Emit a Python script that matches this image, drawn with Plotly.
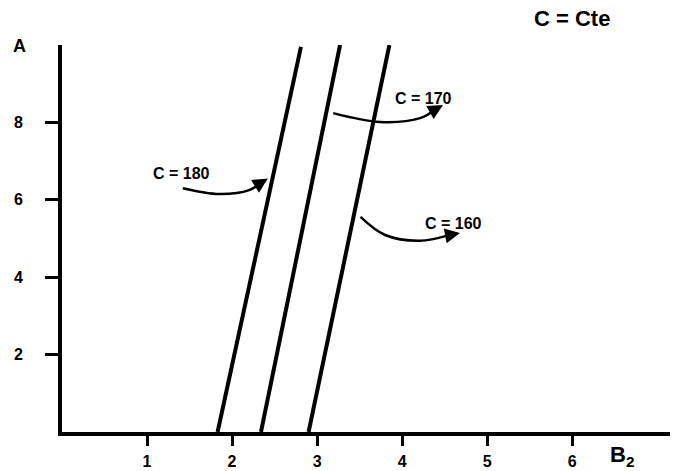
import plotly.graph_objects as go

# ---- data ----
series_names = ["C = 180", "C = 170", "C = 160"]
b2_bottom = [1.83, 2.34, 2.90]
b2_top = [2.81, 3.27, 3.85]
a_bottom = [0.0, 0.0, 0.0]
a_top = [9.95, 10.0, 10.0]

x_ticks = [1, 2, 3, 4, 5, 6]
y_ticks = [2, 4, 6, 8]

# annotation pointer curves (data units)
curve_180_x = [1.42, 1.85, 2.20, 2.42]
curve_180_y = [6.30, 6.15, 6.25, 6.55]
curve_170_x = [3.19, 3.74, 4.21, 4.48]
curve_170_y = [8.24, 8.01, 8.11, 8.45]
curve_160_x = [3.51, 3.80, 4.21, 4.68]
curve_160_y = [5.56, 5.09, 4.94, 5.14]
label_pos = [(1.41, 6.69), (4.25, 8.63), (4.60, 5.40)]

fig = go.Figure()

for i, name in enumerate(series_names):
    fig.add_trace(go.Scatter(
        x=[b2_bottom[i], b2_top[i]], y=[a_bottom[i], a_top[i]],
        mode="lines", line=dict(color="black", width=4),
        name=name, showlegend=False, cliponaxis=False, hoverinfo="skip"))

curves = [(curve_180_x, curve_180_y), (curve_170_x, curve_170_y), (curve_160_x, curve_160_y)]
annotations = []
for (cx, cy), name, (lx, ly) in zip(curves, series_names, label_pos):
    fig.add_trace(go.Scatter(
        x=cx[:-1] + [cx[-1] - 0.3 * (cx[-1] - cx[-2])],
        y=cy[:-1] + [cy[-1] - 0.3 * (cy[-1] - cy[-2])],
        mode="lines", line=dict(color="black", width=2.5, shape="spline"),
        showlegend=False, cliponaxis=False, hoverinfo="skip"))
    annotations.append(dict(
        x=cx[-1], y=cy[-1], ax=cx[-2] + 0.6 * (cx[-1] - cx[-2]), ay=cy[-2] + 0.6 * (cy[-1] - cy[-2]),
        xref="x", yref="y", axref="x", ayref="y", text="", showarrow=True,
        arrowhead=2, arrowsize=1.2, arrowwidth=2.5, arrowcolor="black"))
    annotations.append(dict(
        x=lx, y=ly, xref="x", yref="y", text="<b>" + name + "</b>", showarrow=False,
        xanchor="center", yanchor="middle",
        font=dict(family="Liberation Sans", size=16, color="black")))

W, H = 681, 471
L, R, T, B = 62, 11, 45, 39
pw, ph = W - L - R, H - T - B

# pixel-placed texts
pixel_texts = [
    (20, 46, "<b>A</b>", 18),
    (622, 456, "<b>B<sub>2</sub></b>", 22),
    (572, 19, "<b>C = Cte</b>", 22),
]
for px, py, txt, sz in pixel_texts:
    annotations.append(dict(
        x=(px - L) / pw, y=(H - B - py) / ph, xref="paper", yref="paper",
        text=txt, showarrow=False, xanchor="center", yanchor="middle",
        font=dict(family="Liberation Sans", size=sz, color="black")))

fig.update_layout(
    width=W, height=H,
    margin=dict(l=L, r=R, t=T, b=B, autoexpand=False),
    paper_bgcolor="white", plot_bgcolor="white",
    annotations=annotations,
    xaxis=dict(range=[0, 7.15], tickvals=x_ticks, ticktext=[str(v) for v in x_ticks],
               automargin=False,
               showgrid=False, zeroline=False, showline=True, linecolor="black", linewidth=4,
               ticks="outside", ticklen=10, tickwidth=3, tickcolor="black",
               ticklabelstandoff=2,
               tickfont=dict(family="Liberation Sans", size=16, color="black", weight="bold")),
    yaxis=dict(range=[0, 10], tickvals=y_ticks, ticktext=[str(v) for v in y_ticks],
               automargin=False,
               showgrid=False, zeroline=False, showline=True, linecolor="black", linewidth=4,
               ticks="outside", ticklen=13, tickwidth=3, tickcolor="black",
               ticklabelstandoff=19,
               tickfont=dict(family="Liberation Sans", size=16, color="black", weight="bold")),
)

fig.write_html("out.html", config={"displayModeBar": False},
               post_script="document.body.style.margin='0';document.body.style.overflow='hidden';")
